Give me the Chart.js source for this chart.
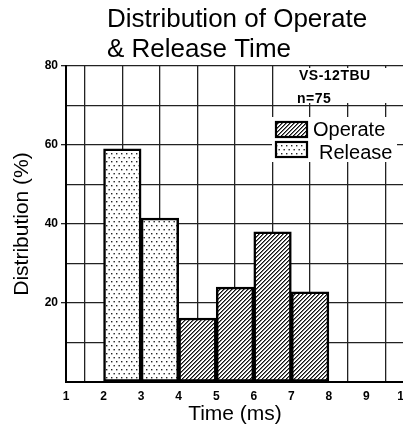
<!DOCTYPE html>
<html><head><meta charset="utf-8">
<style>
html,body{margin:0;padding:0;overflow:hidden;background:#fff;width:403px;height:431px}
canvas{display:block}
</style>
<script src="https://cdn.jsdelivr.net/npm/chart.js@4"></script>
</head><body>
<canvas id="c" width="420" height="431" style="width:420px;height:431px"></canvas>
<script>
// ---- data ----
const titleLines = ['Distribution of Operate', '& Release Time'];
const xAxisTitle = 'Time (ms)';
const yAxisTitle = 'Distribution (%)';
const seriesNames = ['Operate', 'Release'];
const operateBinStart = [4, 5, 6, 7];
const operateValues = [16.2, 24, 38, 22.8];
const releaseBinStart = [2, 3];
const releaseValues = [59, 41.5];
const xTickValues = [1, 2, 3, 4, 5, 6, 7, 8, 9, 10];
const yTickLabels = [20, 40, 60, 80];
const annotationLines = ['VS-12TBU', 'n=75'];

// ---- patterns ----
function hatchPattern() {
  const c = document.createElement('canvas'); c.width = 4; c.height = 4;
  const g = c.getContext('2d');
  g.fillStyle = '#fff'; g.fillRect(0, 0, 4, 4);
  for (let x = 0; x < 4; x++) for (let y = 0; y < 4; y++) {
    const k = (x + y) % 4;
    if (k === 0) { g.fillStyle = '#111'; g.fillRect(x, y, 1, 1); }
    else if (k === 1) { g.fillStyle = '#777'; g.fillRect(x, y, 1, 1); }
  }
  return g.createPattern(c, 'repeat');
}
function dotPattern() {
  const c = document.createElement('canvas'); c.width = 5; c.height = 8;
  const g = c.getContext('2d');
  g.fillStyle = '#fff'; g.fillRect(0, 0, 5, 8);
  g.fillStyle = '#222';
  g.fillRect(1, 1, 1.4, 1.4);
  g.fillRect(3.5, 5, 1.4, 1.4);
  return g.createPattern(c, 'repeat');
}
const hatch = hatchPattern();
const dots = dotPattern();

const toPoints = (starts, vals) => starts.map((s, i) => ({ x: s + 0.5, y: vals[i] }));

const overlay = {
  id: 'overlay',
  afterDraw(chart) {
    const ctx = chart.ctx;
    ctx.save();
    // title
    ctx.fillStyle = '#000';
    ctx.font = '26px "Liberation Sans", Arial, sans-serif';
    ctx.textBaseline = 'alphabetic';
    ctx.textAlign = 'left';
    ctx.fillText(titleLines[0], 107, 27);
    ctx.fillText(titleLines[1], 107, 57);
    // white areas behind annotation and legend
    ctx.fillStyle = '#fff';
    ctx.fillRect(285, 68, 110, 35);
    ctx.fillRect(272, 117, 125, 45);
    // annotation
    ctx.fillStyle = '#000';
    ctx.font = 'bold 14px "Liberation Sans", Arial, sans-serif';
    try { ctx.letterSpacing = '0.5px'; } catch (e) {}
    ctx.fillText(annotationLines[0], 299, 80);
    ctx.fillText(annotationLines[1], 297, 103);
    try { ctx.letterSpacing = '0px'; } catch (e) {}
    // legend
    const ds = chart.data.datasets;
    const boxes = [[276, 122], [276, 142]];
    const textPos = [[313, 136], [319, 159]];
    ds.forEach((d, i) => {
      const [bx, by] = boxes[i];
      ctx.fillStyle = '#fff';
      ctx.fillRect(bx, by, 31, 15);
      ctx.fillStyle = d.backgroundColor;
      ctx.fillRect(bx, by, 31, 15);
      ctx.strokeStyle = '#000'; ctx.lineWidth = 2.2;
      ctx.strokeRect(bx, by, 31, 15);
      ctx.fillStyle = '#000';
      ctx.font = '20px "Liberation Sans", Arial, sans-serif';
      ctx.fillText(d.label, textPos[i][0], textPos[i][1]);
    });
    ctx.restore();
  }
};

new Chart(document.getElementById('c'), {
  type: 'bar',
  data: {
    datasets: [
      { label: seriesNames[0], data: toPoints(operateBinStart, operateValues),
        backgroundColor: hatch, borderColor: '#000', borderWidth: 2.5, borderSkipped: false,
        barPercentage: 1, categoryPercentage: 1, grouped: false },
      { label: seriesNames[1], data: toPoints(releaseBinStart, releaseValues),
        backgroundColor: dots, borderColor: '#000', borderWidth: 2.5, borderSkipped: false,
        barPercentage: 1, categoryPercentage: 1, grouped: false }
    ]
  },
  options: {
    responsive: false, animation: false, devicePixelRatio: 1,
    layout: { padding: { top: 66, right: 16, left: 0, bottom: 0 } },
    plugins: { legend: { display: false }, title: { display: false }, tooltip: { enabled: false } },
    scales: {
      x: {
        type: 'linear', min: 1, max: 10, offset: false,
        afterBuildTicks: (s) => { s.ticks = xTickValues.map(v => ({ value: v })); },
        afterFit: (s) => { s.height = 49; },
        grid: { color: '#222', lineWidth: 1.3, drawTicks: false },
        border: { color: '#000', width: 2 },
        ticks: { padding: 7, color: '#000', font: { family: '"Liberation Sans", Arial, sans-serif', size: 12, weight: 'bold' }, maxRotation: 0, autoSkip: false },
        title: { display: true, text: xAxisTitle, color: '#000', font: { family: '"Liberation Sans", Arial, sans-serif', size: 21 }, padding: { top: 0, bottom: 4 } }
      },
      y: {
        min: 0, max: 80,
        ticks: { stepSize: 10, padding: 3, color: '#000',
          font: { family: '"Liberation Sans", Arial, sans-serif', size: 12, weight: 'bold' },
          callback: (v) => yTickLabels.includes(v) ? String(v) : '' },
        afterFit: (s) => { s.width = 66; },
        grid: { color: '#222', lineWidth: 1.3, tickLength: 5,
          tickColor: (c) => yTickLabels.includes(c.tick && c.tick.value) ? '#222' : 'rgba(0,0,0,0)' },
        border: { color: '#000', width: 2 },
        title: { display: true, text: yAxisTitle, color: '#000', font: { family: '"Liberation Sans", Arial, sans-serif', size: 21 }, padding: { top: 10, bottom: 0 } }
      }
    }
  },
  plugins: [overlay]
});
</script>
</body></html>
